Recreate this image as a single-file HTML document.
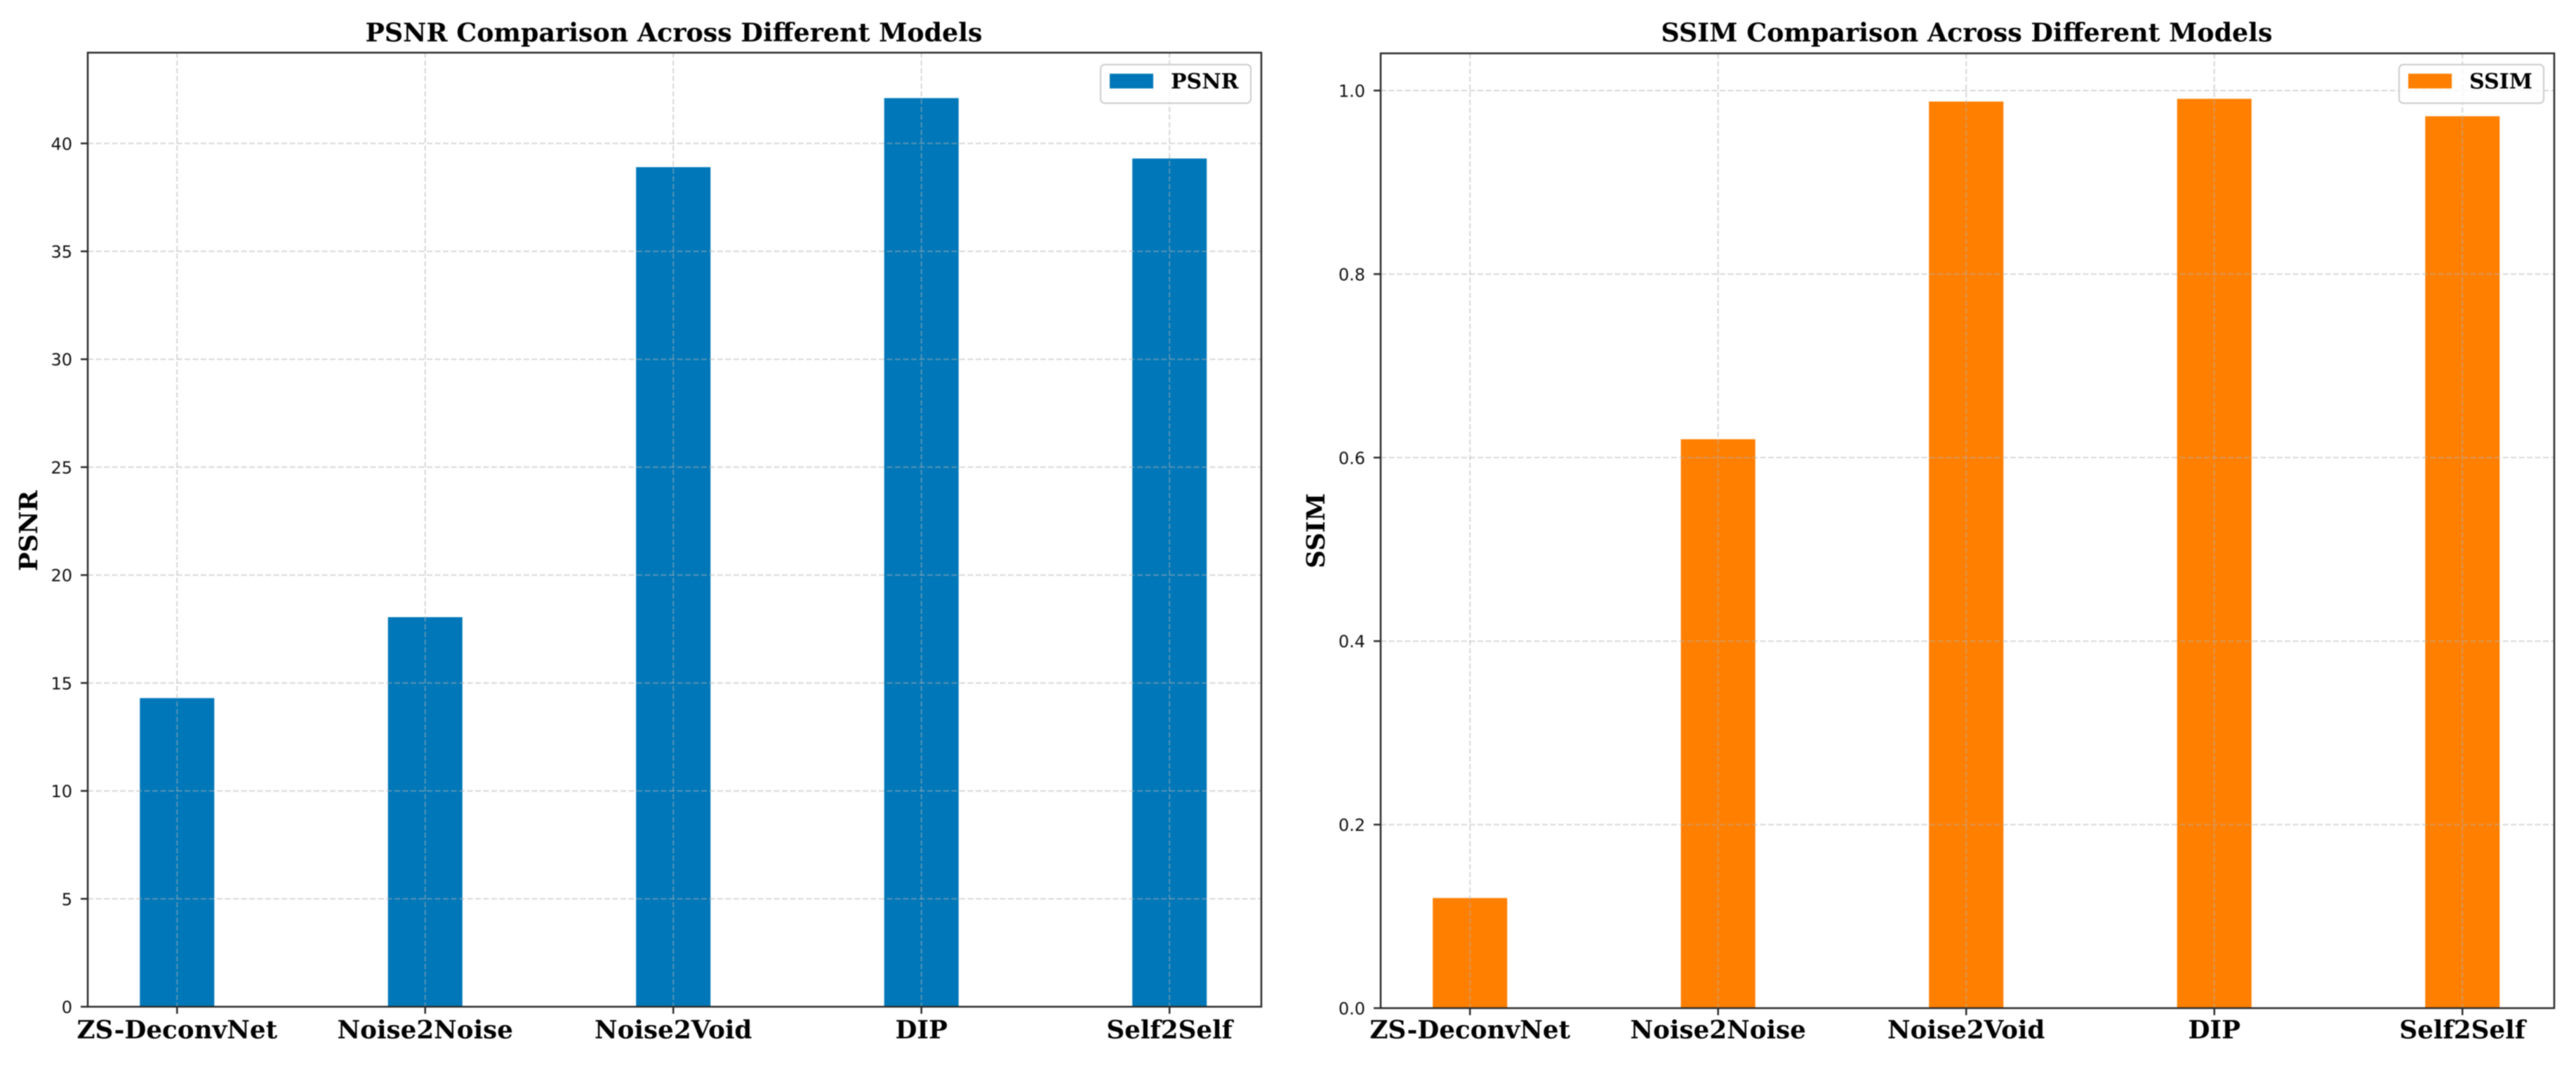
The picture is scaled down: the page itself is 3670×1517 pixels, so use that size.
<!DOCTYPE html>
<html lang="en">
<head>
<meta charset="utf-8">
<title>PSNR and SSIM Comparison Across Different Models</title>
<style>
html,body{margin:0;padding:0;background:#fff;width:3670px;height:1517px;overflow:hidden}
#chart-root{display:block;filter:blur(0.9px)}
text{fill:#0a0a0a}
.tick{font-family:"DejaVu Sans","Liberation Sans",sans-serif;font-size:24px;fill:#111}
.cat{font-family:"DejaVu Serif","Liberation Serif",serif;font-weight:bold;font-size:35.7px;fill:#000}
.title{font-family:"DejaVu Serif","Liberation Serif",serif;font-weight:bold;font-size:36.4px;fill:#000}
.ylab{font-family:"DejaVu Serif","Liberation Serif",serif;font-weight:bold;font-size:35.7px;fill:#000}
.leg{font-family:"DejaVu Serif","Liberation Serif",serif;font-weight:bold;font-size:30px;fill:#000}
</style>
</head>
<body>
<svg id="chart-root" xmlns="http://www.w3.org/2000/svg" width="3670" height="1517" viewBox="0 0 3670 1517"></svg>
<script>
const categories = ["ZS-DeconvNet", "Noise2Noise", "Noise2Void", "DIP", "Self2Self"];
const psnrValues = [14.3, 18.05, 38.9, 42.1, 39.3];
const ssimValues = [0.12, 0.62, 0.988, 0.991, 0.972];
const psnrTicks = [0, 5, 10, 15, 20, 25, 30, 35, 40];
const psnrTickLabels = ["0", "5", "10", "15", "20", "25", "30", "35", "40"];
const ssimTicks = [0, 0.2, 0.4, 0.6, 0.8, 1.0];
const ssimTickLabels = ["0.0", "0.2", "0.4", "0.6", "0.8", "1.0"];

const SVGNS = "http://www.w3.org/2000/svg";
const root = document.getElementById("chart-root");

function mk(parent, tag, attrs, txt) {
  const el = document.createElementNS(SVGNS, tag);
  for (const k in attrs) el.setAttribute(k, attrs[k]);
  if (txt !== undefined) el.textContent = txt;
  parent.appendChild(el);
  return el;
}

function drawPanel(cfg) {
  const L = cfg.left, R = cfg.right, T = cfg.top, B = cfg.bottom;
  const n = categories.length;
  const BAR_WIDTH = 0.3;
  const xMin = -0.36;
  const xMax = n - 1 + 0.37;
  const yMax = Math.max.apply(null, cfg.values) * 1.05;
  const xScale = v => L + (v - xMin) / (xMax - xMin) * (R - L);
  const yScale = v => B - v / yMax * (B - T);

  const panel = mk(root, "g", {});
  
  

  // Bars
  const barW = xScale(BAR_WIDTH) - xScale(0);
  categories.forEach((c, i) => {
    const bar = mk(panel, "rect", {
      x: xScale(i) - barW / 2,
      y: yScale(cfg.values[i]),
      width: barW,
      height: B - yScale(cfg.values[i]),
      fill: cfg.color
    });
    
    
  });

  // Grid lines sit above the bars, as in the reference
  const hGrid = { stroke: "#b0b0b0", "stroke-opacity": 0.5, "stroke-width": 2, "stroke-dasharray": "8 3.5" };
  const vGrid = { stroke: "#b0b0b0", "stroke-opacity": 0.5, "stroke-width": 2, "stroke-dasharray": "7.5 3.5" };
  categories.forEach((c, i) => {
    const g = mk(panel, "line", Object.assign({ x1: xScale(i), x2: xScale(i), y1: T, y2: B }, vGrid));
    
    
  });
  cfg.ticks.forEach(t => {
    if (t > yMax) return;
    const g = mk(panel, "line", Object.assign({ x1: L, x2: R, y1: yScale(t), y2: yScale(t) }, hGrid));
    
    
  });

  // Spines
  const frame = mk(panel, "rect", { x: L, y: T, width: R - L, height: B - T, fill: "none", stroke: "#2a2a2a", "stroke-width": 2.5 });
  
  

  // Y ticks and labels
  cfg.ticks.forEach((t, i) => {
    if (t > yMax) return;
    const mark = mk(panel, "line", { x1: L - 10, x2: L, y1: yScale(t), y2: yScale(t), stroke: "#2a2a2a", "stroke-width": 2.5 });
    
    
    const lab = mk(panel, "text", { class: "tick", x: L - 22, y: yScale(t) + 9, "text-anchor": "end" }, cfg.tickLabels[i]);
    
    
  });

  // X ticks and labels
  categories.forEach((c, i) => {
    const mark = mk(panel, "line", { x1: xScale(i), x2: xScale(i), y1: B, y2: B + 10, stroke: "#2a2a2a", "stroke-width": 2.5 });
    
    
    const lab = mk(panel, "text", { class: "cat", x: xScale(i), y: 1479, "text-anchor": "middle" }, c);
    
    
  });

  // Title and y-axis title
  const title = mk(panel, "text", { class: "title", x: (L + R) / 2 - 1, y: 59, "text-anchor": "middle" }, cfg.title);
  
  
  const ylab = mk(panel, "text", {
    class: "ylab", "text-anchor": "middle",
    transform: "translate(" + cfg.ylabelX + " 756) rotate(-90)"
  }, cfg.label);
  
  

  // Legend
  const legend = mk(panel, "g", {});
  
  
  const box = mk(legend, "rect", {
    x: cfg.legendX, y: 92, width: R - 15 - cfg.legendX, height: 55, rx: 6, ry: 6,
    fill: "#fff", "fill-opacity": 0.8, stroke: "#cfcfcf", "stroke-width": 2.2
  });
  
  
  const swatch = mk(legend, "rect", { x: cfg.legendX + 13, y: 105, width: 62, height: 21, fill: cfg.color });
  
  
  const legText = mk(legend, "text", { class: "leg", x: cfg.legendX + 100, y: 126 }, cfg.label);
  
  
}

drawPanel({
  key: "psnr", left: 125, right: 1797, top: 75, bottom: 1434, values: psnrValues, ticks: psnrTicks, tickLabels: psnrTickLabels,
  color: "#0077b8", title: "PSNR Comparison Across Different Models", label: "PSNR", ylabelX: 53, legendX: 1568
});
drawPanel({
  key: "ssim", left: 1967, right: 3639, top: 76, bottom: 1436, values: ssimValues, ticks: ssimTicks, tickLabels: ssimTickLabels,
  color: "#ff7f00", title: "SSIM Comparison Across Different Models", label: "SSIM", ylabelX: 1887, legendX: 3418
});
</script>
</body>
</html>
